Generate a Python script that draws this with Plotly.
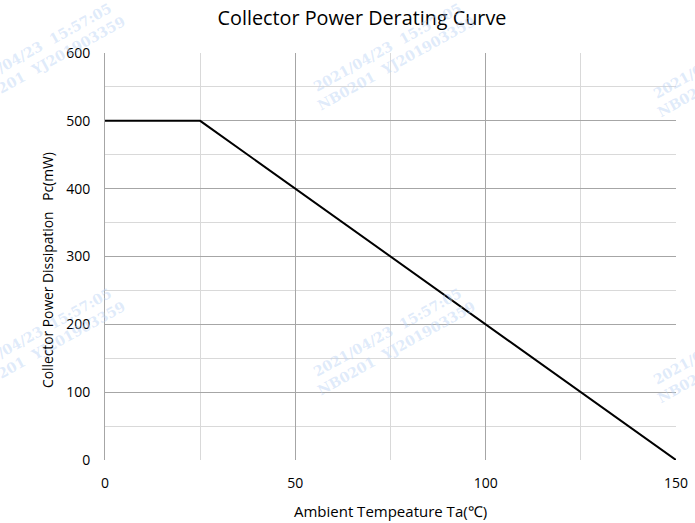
import plotly.graph_objects as go

temp = [0, 25, 150]
power = [500, 500, 0]
x_ticks = [0, 50, 100, 150]
y_ticks = [0, 100, 200, 300, 400, 500, 600]

title = "Collector Power Derating Curve"
x_title = "Ambient Tempeature Ta(\u2103)"
y_title = "Collector Power Dissipation\u00a0\u00a0\u00a0Pc(mW)"
wm_line1 = "2021/04/23\u00a0\u00a015:57:05"
wm_line2 = "NB0201\u00a0\u00a0YJ201903359"

font = "Open Sans"
fig = go.Figure()
fig.add_trace(go.Scatter(x=temp, y=power, mode="lines",
                         line=dict(color="black", width=2), showlegend=False))

# watermarks (paper coords)
wm_pos = [(-0.110, 0.995), (0.503, 0.995), (1.098, 0.978),
          (-0.110, 0.295), (0.503, 0.295), (1.098, 0.275)]
for (px, py) in wm_pos:
    fig.add_annotation(xref="paper", yref="paper", x=px, y=py, showarrow=False,
                       xanchor="center", yanchor="middle",
                       text="<b>" + wm_line1 + "<br>" + wm_line2 + "</b>", textangle=-29,
                       align="center",
                       font=dict(family="DejaVu Serif", size=14, color="rgba(185,210,245,0.45)"))

# y-axis title placed as in the reference (slightly below the plot centre)
fig.add_annotation(xref="paper", yref="paper", x=-0.0998, y=0.467, showarrow=False,
                   xanchor="center", yanchor="middle", text=y_title, textangle=-90,
                   font=dict(family=font, size=13.8, color="black"))

fig.update_layout(
    width=695, height=523,
    margin=dict(l=105, r=19, t=53, b=63),
    paper_bgcolor="white", plot_bgcolor="white",
    title=dict(text=title, x=362 / 695, xref="container", xanchor="center", y=1 - 18 / 523,
               yanchor="middle", font=dict(family=font, size=19.8, color="black")),
    font=dict(family=font, color="black"),
    xaxis=dict(range=[0, 150], tickvals=x_ticks, showgrid=True, gridcolor="#a6a6a6", gridwidth=1,
               minor=dict(dtick=25, tick0=0, showgrid=True, gridcolor="#d9d9d9", gridwidth=1),
               zeroline=False, showline=False, ticks="", ticklabelstandoff=13,
               tickfont=dict(size=14, family=font), automargin=False,
               title=dict(text=x_title, font=dict(size=15, family=font), standoff=15)),
    yaxis=dict(range=[0, 600], tickvals=y_ticks, showgrid=True, gridcolor="#a6a6a6", gridwidth=1,
               minor=dict(dtick=50, tick0=0, showgrid=True, gridcolor="#d9d9d9", gridwidth=1),
               zeroline=False, showline=True, linecolor="#a6a6a6", ticks="", ticklabelstandoff=11,
               tickfont=dict(size=14, family=font), automargin=False),
)
fig.write_html("out.html", config={"displayModeBar": False},
               post_script="document.body.style.margin='0';document.body.style.overflow='hidden';")
